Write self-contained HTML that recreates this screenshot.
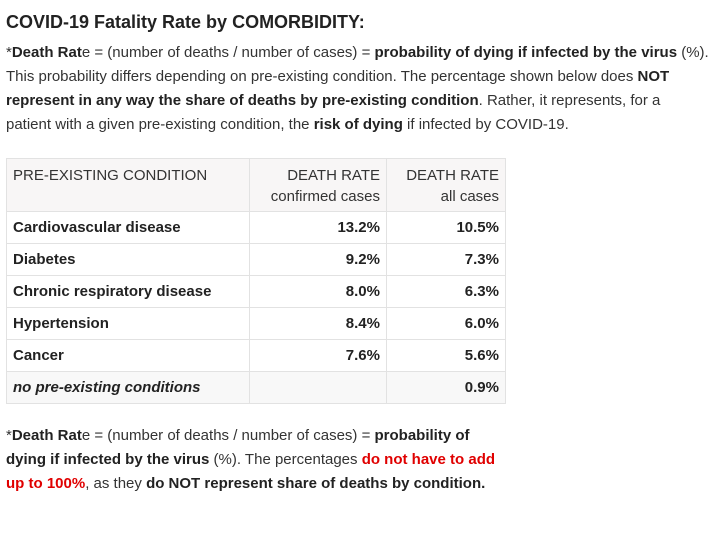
<!DOCTYPE html>
<html><head><meta charset="utf-8"><style>
body{margin:0;background:#fff;width:711px;height:534px;overflow:hidden;font-family:"Liberation Sans",Arial,sans-serif;color:#333;}
.t{position:absolute;left:6px;top:12px;font-size:18px;font-weight:bold;color:#222;}
.p{position:absolute;left:6px;font-size:15px;line-height:24px;color:#333;white-space:nowrap;}
b{color:#222}
table{position:absolute;left:6px;top:158px;border-collapse:collapse;font-size:15px;}
td{border:1px solid #e2e2e2;padding:0 6px;height:31px;white-space:nowrap;}
td.r{text-align:right;}
tr.h td{background:#f8f6f6;vertical-align:top;height:46px;padding-top:6px;line-height:21px;color:#333;}
tr.b td{font-weight:bold;color:#222;}
tr.g td{background:#f8f8f8;}
.red{color:#e00000;font-weight:bold;}
</style></head><body>
<div class="t">COVID-19 Fatality Rate by COMORBIDITY:</div>
<div class="p" style="top:41px;">*<b>Death Rat</b>e = (number of deaths / number of cases) = <b>probability of dying if infected by the virus</b> (%).<br>This probability differs depending on pre-existing condition. The percentage shown below does <b>NOT</b><br><b>represent in any way the share of deaths by pre-existing condition</b>. Rather, it represents, for a<br>patient with a given pre-existing condition, the <b>risk of dying</b> if infected by COVID-19.</div>
<table>
<tr class="h"><td style="width:230px">PRE-EXISTING CONDITION</td><td class="r" style="width:124px">DEATH RATE<br>confirmed cases</td><td class="r" style="width:106px">DEATH RATE<br>all cases</td></tr>
<tr class="b"><td>Cardiovascular disease</td><td class="r">13.2%</td><td class="r">10.5%</td></tr>
<tr class="b"><td>Diabetes</td><td class="r">9.2%</td><td class="r">7.3%</td></tr>
<tr class="b"><td>Chronic respiratory disease</td><td class="r">8.0%</td><td class="r">6.3%</td></tr>
<tr class="b"><td>Hypertension</td><td class="r">8.4%</td><td class="r">6.0%</td></tr>
<tr class="b"><td>Cancer</td><td class="r">7.6%</td><td class="r">5.6%</td></tr>
<tr class="b g"><td><i>no pre-existing conditions</i></td><td></td><td class="r">0.9%</td></tr>
</table>
<div class="p" style="top:424px;">*<b>Death Rat</b>e = (number of deaths / number of cases) = <b>probability of</b><br><b>dying if infected by the virus</b> (%). The percentages <span class="red">do not have to add</span><br><span class="red">up to 100%</span>, as they <b>do NOT represent share of deaths by condition.</b></div>
</body></html>
